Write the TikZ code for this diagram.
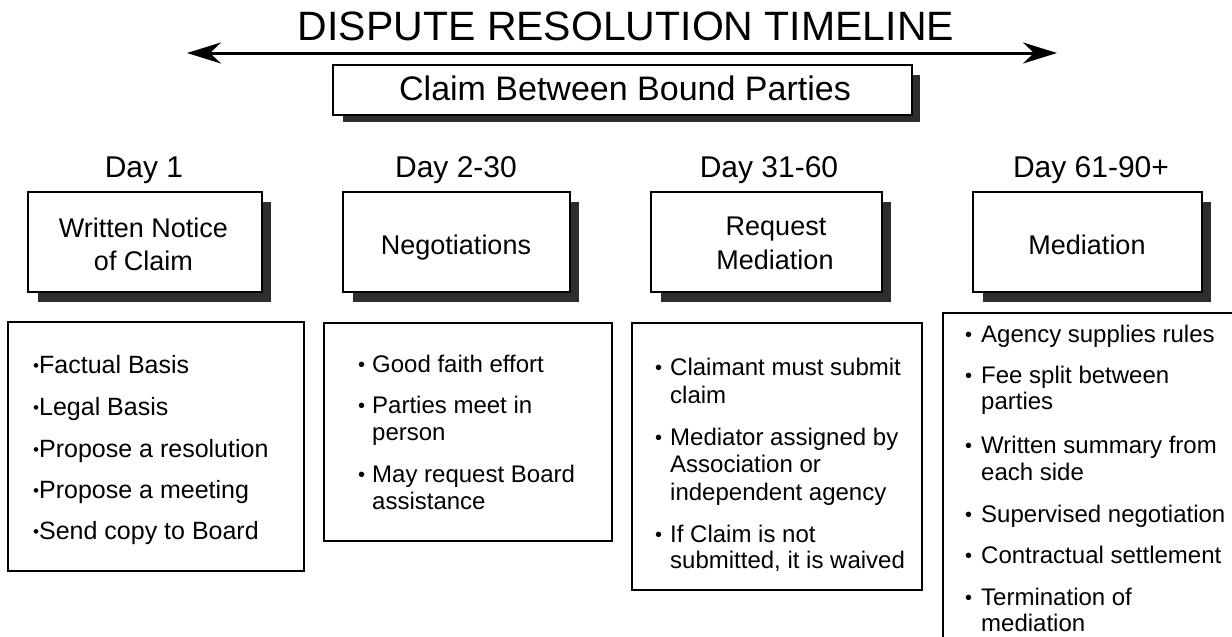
\documentclass[tikz,border=0pt]{standalone}
\usepackage{fontspec}
\setmainfont{Liberation Sans}
\usetikzlibrary{arrows.meta,calc}
\begin{document}
\begin{tikzpicture}[x=1pt,y=-1pt,
  hdrbox/.style={draw=black,line width=1.8pt,fill=white,inner sep=0pt},
  detbox/.style={draw=black,line width=1.6pt,fill=white,inner sep=0pt},
  shad/.style={fill=black!82},
  titletxt/.style={font=\fontsize{41}{41}\selectfont,anchor=base,inner sep=0pt},
  claimtxt/.style={font=\fontsize{34}{34}\selectfont,anchor=base,inner sep=0pt},
  daytxt/.style={font=\fontsize{30}{30}\selectfont,anchor=base,inner sep=0pt},
  hdrtxt/.style={font=\fontsize{27}{27}\selectfont,anchor=base,inner sep=0pt},
  ltxt/.style={font=\fontsize{24}{24}\selectfont,anchor=base west,inner sep=0pt},
  ltxtA/.style={font=\fontsize{25}{25}\selectfont,anchor=base west,inner sep=0pt},
  bul/.style={font=\fontsize{20}{20}\selectfont,anchor=base west,inner sep=0pt}
]
\useasboundingbox (0,0) rectangle (1232,637);
\fill[white] (0,0) rectangle (1232,637);
\clip (0,0) rectangle (1232,637);

% title and timeline arrow
\node[titletxt] (title) at (626,40) {DISPUTE RESOLUTION TIMELINE};
\coordinate (aL) at (187,53);
\coordinate (aR) at (1057,53);
\draw[line width=3pt,{Stealth[length=34pt,width=21pt,inset=11pt]}-{Stealth[length=34pt,width=21pt,inset=11pt]}] (aL) -- (aR);

% claim box with shadow
\coordinate (cc) at (622.5,90);
\fill[shad] ($(cc)+(289.5,-15)$) rectangle ($(cc)+(297.5,32)$);
\fill[shad] ($(cc)+(-279.5,25)$) rectangle ($(cc)+(297.5,32)$);
\node[hdrbox,minimum width=579pt,minimum height=50pt] (claim) at (cc) {};
\node[claimtxt] (claimt) at (625,100) {Claim Between Bound Parties};

% day labels
\node[daytxt] (day1) at (144,177) {Day 1};
\node[daytxt] (day2) at (456,177) {Day 2-30};
\node[daytxt] (day3) at (769,177) {Day 31-60};
\node[daytxt] (day4) at (1091,177) {Day 61-90+};

% header boxes with shadows
\foreach \n/\cx/\w in {h1/145/234, h2/456.5/227, h3/766.5/231, h4/1087.5/229}{
  \path (\cx,242) coordinate (\n c);
  \fill[shad] ($(\n c)+(\w/2,-40)$) rectangle ($(\n c)+(\w/2+9,60)$);
  \fill[shad] ($(\n c)+(-\w/2+10,50)$) rectangle ($(\n c)+(\w/2+9,60)$);
  \node[hdrbox,minimum width=\w pt,minimum height=100pt] (\n) at (\n c) {};
}
\node[hdrtxt] (h1a) at (143.5,237) {Written Notice};
\node[hdrtxt] (h1b) at (143.5,270) {of Claim};
\node[hdrtxt] (h2a) at (456,254) {Negotiations};
\node[hdrtxt] (h3a) at (776,235) {Request};
\node[hdrtxt] (h3b) at (775,269) {Mediation};
\node[hdrtxt] (h4a) at (1087,254) {Mediation};

% detail boxes
\draw[detbox] (8,322) rectangle (304,571);
\draw[detbox] (324,323) rectangle (612,541);
\draw[detbox] (632,323) rectangle (922,590);
\draw[detbox] (943,313) rectangle (1240,660);

% box 1 items
\foreach \y/\t [count=\i] in {373/{Factual Basis},415/{Legal Basis},457/{Propose a resolution},498/{Propose a meeting},539/{Send copy to Board}}{
  \node[ltxtA] (d1t\i) at (33,\y) {\raisebox{1.5pt}{\fontsize{17}{17}\selectfont •}\t};
}
% box 2 items
\foreach \y/\t [count=\i] in {372/{Good faith effort},413/{Parties meet in},440/{person},482/{May request Board},509/{assistance}}{
  \node[ltxt] (d2t\i) at (372,\y) {\t};
}
\foreach \y [count=\i] in {372,413,482}{
  \node[bul] (d2b\i) at (358,\y-1) {•};
}
% box 3 items
\foreach \y/\t [count=\i] in {375/{Claimant must submit},403/{claim},445/{Mediator assigned by},472/{Association or},500/{independent agency},542/{If Claim is not},568/{submitted, it is waived}}{
  \node[ltxt] (d3t\i) at (670,\y) {\t};
}
\foreach \y [count=\i] in {375,445,542}{
  \node[bul] (d3b\i) at (655,\y-1) {•};
}
% box 4 items
\foreach \y/\t [count=\i] in {342/{Agency supplies rules},383/{Fee split between},409/{parties},453/{Written summary from},480/{each side},522/{Supervised negotiation},563/{Contractual settlement},605/{Termination of},631/{mediation}}{
  \node[ltxt] (d4t\i) at (981,\y) {\t};
}
\foreach \y [count=\i] in {342,383,453,522,563,605}{
  \node[bul] (d4b\i) at (965,\y-1) {•};
}
\end{tikzpicture}
\end{document}
